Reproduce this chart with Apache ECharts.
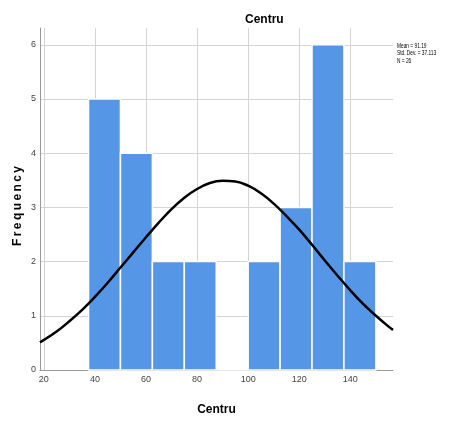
<!DOCTYPE html>
<html>
<head>
<meta charset="utf-8">
<script src="https://cdn.jsdelivr.net/npm/echarts@6/dist/echarts.min.js"></script>
<style>html,body{margin:0;padding:0;background:#fff;}#c{width:454px;height:421px;}</style>
</head>
<body>
<div id="c"></div>
<script>
// Histogram bins (lower edge, upper edge) and frequencies
const binStarts = [37.5, 50, 62.5, 75, 87.5, 100, 112.5, 125, 137.5];
const binEnds   = [50, 62.5, 75, 87.5, 100, 112.5, 125, 137.5, 150];
const counts    = [5, 4, 2, 2, 0, 2, 3, 6, 2];
// Normal curve
const curveX = [18.5, 25, 30, 35, 40, 45, 50, 55, 60, 65, 70, 75, 80, 85, 90, 95, 100, 105, 110, 115, 120, 125, 130, 135, 140, 145, 150, 155, 156.7];
const curveY = [0.51, 0.71, 0.90, 1.11, 1.35, 1.61, 1.89, 2.17, 2.45, 2.72, 2.97, 3.18, 3.34, 3.45, 3.49, 3.48, 3.40, 3.26, 3.07, 2.84, 2.59, 2.31, 2.02, 1.74, 1.47, 1.22, 1.00, 0.80, 0.74];
const xTicks = [20, 40, 60, 80, 100, 120, 140];
const yTicks = [0, 1, 2, 3, 4, 5, 6];
const statsLines = ['Mean = 91.19', 'Std. Dev. = 37.113', 'N = 26'];

const chart = echarts.init(document.getElementById('c'), null, {renderer: 'canvas'});
const barData = binStarts.map((s, i) => [s, binEnds[i], counts[i]]);
const lineData = curveX.map((x, i) => [x, curveY[i]]);
const sans = '"Liberation Sans", Arial, sans-serif';

chart.setOption({
  animation: false,
  backgroundColor: '#ffffff',
  title: {
    text: 'Centru', left: 240, top: 9,
    textStyle: {fontFamily: sans, fontSize: 12, fontWeight: 'bold', color: '#000'}
  },
  grid: {left: 40, right: 61, top: 28, bottom: 49, containLabel: false},
  xAxis: {
    type: 'value', min: 18.5, max: 156.7,
    axisLine: {show: true, lineStyle: {color: '#999', width: 1}},
    axisTick: {show: false, customValues: xTicks},
    axisLabel: {customValues: xTicks, fontFamily: sans, fontSize: 9, color: '#444', margin: 5},
    splitLine: {show: true, lineStyle: {color: '#d4d4d4', width: 1}},
    name: 'Centru', nameLocation: 'middle', nameGap: 34,
    nameTextStyle: {fontFamily: sans, fontSize: 12, fontWeight: 'bold', color: '#000'}
  },
  yAxis: {
    type: 'value', min: 0, max: 6.31,
    axisLine: {show: true, lineStyle: {color: '#999', width: 1}},
    axisTick: {show: false, customValues: yTicks},
    axisLabel: {customValues: yTicks, fontFamily: sans, fontSize: 9, color: '#444', margin: 4},
    splitLine: {show: true, lineStyle: {color: '#d4d4d4', width: 1}}
  },
  graphic: [
    {
      type: 'text', x: 18, y: 206, rotation: Math.PI / 2,
      style: {text: 'F\u2009r\u2009e\u2009q\u2009u\u2009e\u2009n\u2009c\u2009y', fill: '#000', font: 'bold 12px "Liberation Sans", Arial', align: 'center', verticalAlign: 'middle'}
    },
    {
      type: 'text', x: 397, y: 42, scaleX: 0.64,
      style: {text: statsLines.join('\n'), fill: '#000', font: '7.5px "Liberation Sans", Arial', lineHeight: 7.5}
    }
  ],
  series: [
    {
      type: 'custom',
      data: barData,
      encode: {x: [0, 1], y: 2},
      renderItem: function (params, api) {
        const p0 = api.coord([api.value(0), api.value(2)]);
        const p1 = api.coord([api.value(1), 0]);
        return {
          type: 'rect',
          shape: {x: p0[0], y: p0[1], width: p1[0] - p0[0], height: p1[1] - p0[1]},
          style: {fill: '#5596e6', stroke: '#ffffff', lineWidth: 1.5}
        };
      },
      z: 2
    },
    {
      type: 'line', data: lineData, smooth: 0.4, showSymbol: false,
      lineStyle: {color: '#000', width: 2.5}, z: 3
    }
  ]
});
</script>
</body>
</html>
